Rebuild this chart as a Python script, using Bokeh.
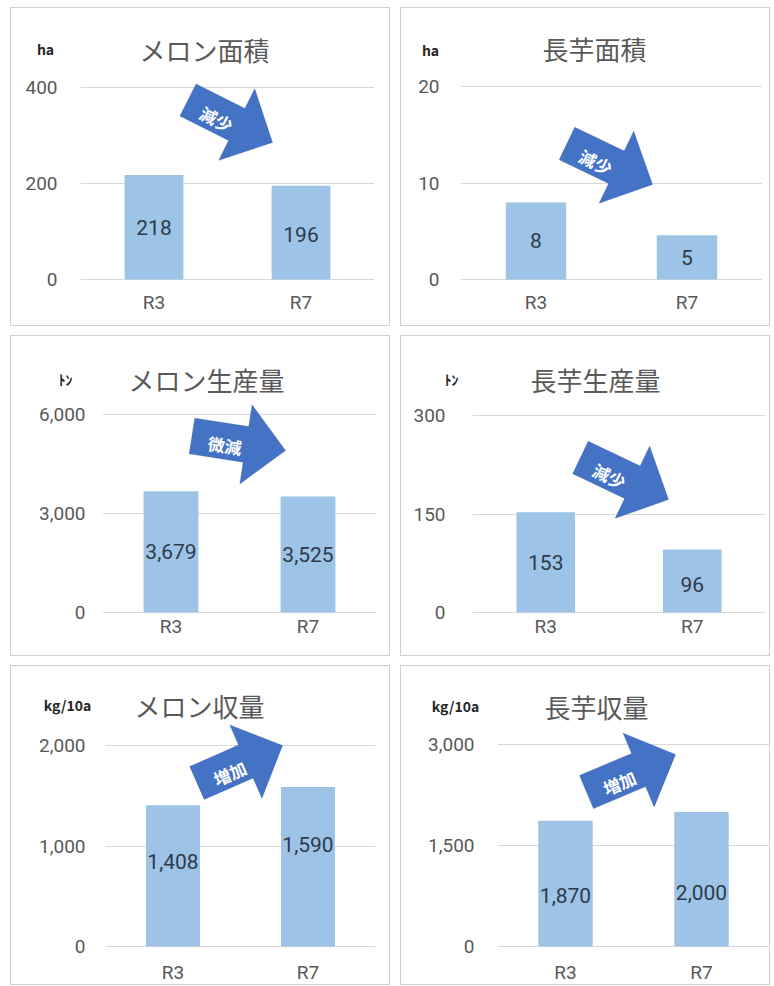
import math
from bokeh.plotting import figure
from bokeh.models import (ColumnDataSource, FactorRange, Range1d, FixedTicker,
                          NumeralTickFormatter, Label, PolyAnnotation)
from bokeh.layouts import row, column
from bokeh.core.properties import value
from bokeh.embed import file_html
from bokeh.resources import INLINE

# ---------------- data ----------------
years = ["R3", "R7"]
melon_area = [218, 196]          # ha
nagaimo_area = [8.0, 4.6]        # ha
melon_production = [3679, 3525]  # トン
nagaimo_production = [153, 96]   # トン
melon_yield = [1408, 1590]       # kg/10a
nagaimo_yield = [1870, 2000]     # kg/10a

titles = ["メロン面積", "長芋面積", "メロン生産量", "長芋生産量", "メロン収量", "長芋収量"]
units = ["ha", "ha", "ﾄﾝ", "ﾄﾝ", "kg/10a", "kg/10a"]
trend_words = ["減少", "減少", "微減", "減少", "増加", "増加"]
y_tick_sets = [[0, 200, 400], [0, 10, 20], [0, 3000, 6000],
               [0, 150, 300], [0, 1000, 2000], [0, 1500, 3000]]
series = [melon_area, nagaimo_area, melon_production,
          nagaimo_production, melon_yield, nagaimo_yield]

# ---------------- layout / style (pixels) ----------------
# w,h: figure size; left: frame left offset; mt: top tick offset; z: zero offset;
# fw: frame width; ys/xs: label standoffs; tx,tdy: title; ux,udy: unit;
# arrow: tail/tip relative to (frame left, top tick line); ldy: data label shifts
layout = [
    dict(w=378, h=317, left=69, mt=79, z=269, fw=292, ys=23, xs=10,
         tx=124, tdy=40, ux=-35, udy=39, arrow=(107.5, 10.5, 192, 53), ldy=(0, -2)),
    dict(w=368, h=317, left=59, mt=78, z=269, fw=300, ys=21, xs=10,
         tx=134, tdy=40, ux=-30, udy=37, arrow=(106.5, 55, 192, 96), ldy=(0, 0)),
    dict(w=378, h=319, left=91, mt=78, z=274, fw=272, ys=17, xs=1,
         tx=104, tdy=37, ux=-37, udy=36, arrow=(89.5, 19.5, 183, 34), ldy=(0, 0)),
    dict(w=368, h=319, left=71, mt=79, z=274, fw=291, ys=27, xs=1,
         tx=123, tdy=38, ux=-21, udy=37, arrow=(108, 40, 196, 82), ldy=(0, -3)),
    dict(w=378, h=318, left=94, mt=79, z=278, fw=268, ys=20, xs=13,
         tx=94, tdy=42, ux=-38, udy=41, arrow=(91.5, 35.5, 177, -2), ldy=(14, 22)),
    dict(w=368, h=318, left=96, mt=78, z=278, fw=270, ys=23, xs=13,
         tx=99, tdy=40, ux=-42, udy=39, arrow=(89, 45.5, 178, 8), ldy=(-12, -13)),
]
TOP = 24  # height reserved above the frame (holds the unit label)

NUM_FONT = "Roboto"
JP_FONT = "Noto Sans CJK JP"
BAR = "#9DC3E6"
GRID = "#D9D9D9"
TXT = "#595959"
ARROW = "#4472C4"
DATA_TXT = "#2F3A4A"


def arrow_shape(tx, ty, hx, hy, shaft=36, head_w=80, head_l=40):
    dx, dy = hx - tx, hy - ty
    L = math.hypot(dx, dy)
    ux, uy = dx / L, dy / L
    nx, ny = -uy, ux
    sl = L - head_l
    pts = [(0, -shaft / 2), (sl, -shaft / 2), (sl, -head_w / 2), (L, 0),
           (sl, head_w / 2), (sl, shaft / 2), (0, shaft / 2)]
    xs = [tx + a * ux + b * nx for a, b in pts]
    ys = [ty + a * uy + b * ny for a, b in pts]
    return xs, ys, ux, uy, nx, ny


def make_panel(i):
    vals = series[i]
    cfg = layout[i]
    ticks = y_tick_sets[i]
    ymax = ticks[-1]
    span = cfg["z"] - cfg["mt"]          # pixels between 0 and top tick
    k = ymax / span                      # data units per pixel
    FH = cfg["z"] + 1 - TOP              # frame height
    base = cfg["z"] + 1 - cfg["mt"]      # screen y (up) of top tick line
    p = figure(x_range=FactorRange(*years), y_range=Range1d(-k, (cfg["z"] - TOP) * k),
               frame_width=cfg["fw"], frame_height=FH,
               min_border_left=cfg["left"], min_border_top=TOP,
               min_border_right=cfg["w"] - cfg["left"] - cfg["fw"],
               min_border_bottom=cfg["h"] - cfg["z"] - 1,
               output_backend="svg", toolbar_location=None, tools="")
    p.styles = {"border": "1px solid #D0D0D0"}
    p.outline_line_color = None
    p.background_fill_color = "white"
    p.border_fill_color = "white"

    src = ColumnDataSource(dict(
        x=years, top=vals,
        mid=[v / 2 for v in vals],
        lab=[f"{v:,.0f}" for v in vals],
        off=[-d for d in cfg["ldy"]],
    ))
    p.vbar(x="x", top="top", width=0.4, source=src, fill_color=BAR, line_color=None)
    p.text(x="x", y="mid", text="lab", y_offset="off", source=src,
           text_font=value(NUM_FONT), text_font_size="21px", text_color=DATA_TXT,
           text_align="center", text_baseline="middle")

    # axes
    p.yaxis.ticker = FixedTicker(ticks=ticks)
    p.yaxis.formatter = NumeralTickFormatter(format="0,0")
    for ax in (p.xaxis[0], p.yaxis[0]):
        ax.axis_line_color = None
        ax.major_tick_line_color = None
        ax.minor_tick_line_color = None
        ax.major_tick_out = 0
        ax.major_tick_in = 0
        ax.major_label_text_color = TXT
        ax.major_label_text_font = NUM_FONT
        ax.major_label_text_font_size = "19px"
    p.yaxis.major_label_standoff = cfg["ys"]
    p.xaxis.major_label_standoff = cfg["xs"]
    p.xgrid.grid_line_color = None
    p.ygrid.grid_line_color = GRID
    p.ygrid.ticker = FixedTicker(ticks=ticks)

    # title (inside the frame, above the top tick line)
    p.add_layout(Label(x=cfg["tx"], y=base + cfg["tdy"], x_units="screen", y_units="screen",
                       text=titles[i], text_font=JP_FONT, text_font_size="26px",
                       text_color=TXT, text_align="center", text_baseline="middle"))
    # unit (placed in the panel above the frame so it is not clipped)
    p.add_layout(Label(x=cfg["ux"], y=TOP - (cfg["mt"] - cfg["udy"]),
                       x_units="screen", y_units="screen",
                       text=units[i], text_font=JP_FONT, text_font_size="14px",
                       text_font_style="bold", text_color="#262626",
                       text_align="center", text_baseline="middle"), "above")

    # trend arrow
    tx, ty, hx, hy = cfg["arrow"]
    xs, ys, ux, uy, nx, ny = arrow_shape(tx, ty, hx, hy)
    p.add_layout(PolyAnnotation(xs=xs, ys=[base - y for y in ys],
                                xs_units="screen", ys_units="screen",
                                fill_color=ARROW, fill_alpha=1.0,
                                line_color="#2F5597", line_width=1))
    lx = tx + 34 * ux + 4 * nx
    ly = ty + 34 * uy + 4 * ny
    p.add_layout(Label(x=lx, y=base - ly, x_units="screen", y_units="screen",
                       text=trend_words[i], angle=math.atan2(-uy, ux),
                       text_font=JP_FONT, text_font_size="17px", text_font_style="bold",
                       text_color="white", text_align="center", text_baseline="middle"))
    return p


panels = [make_panel(i) for i in range(6)]
grid = column(
    row(panels[0], panels[1], spacing=10),
    row(panels[2], panels[3], spacing=10),
    row(panels[4], panels[5], spacing=10),
    spacing=9,
    margin=(7, 0, 0, 10),
)

open("out.html", "w").write(file_html(grid, INLINE))
